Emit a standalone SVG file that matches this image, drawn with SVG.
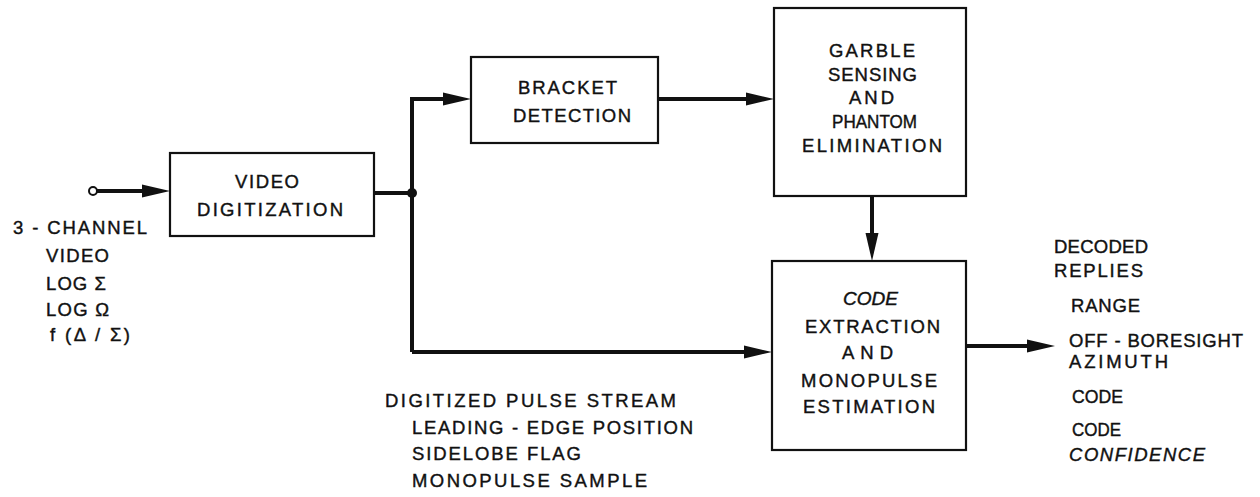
<svg xmlns="http://www.w3.org/2000/svg" width="1260" height="497" viewBox="0 0 1260 497">
<style>
text{font-family:"Liberation Sans",Arial,sans-serif;font-size:18.5px;fill:#111;stroke:#111;stroke-width:0.4;}
.c{text-anchor:middle;}
.i{font-style:italic;}
.box{fill:#fff;stroke:#111;stroke-width:2.2;}
.wire{fill:none;stroke:#111;stroke-width:4;}
</style>
<defs>
<marker id="ah" viewBox="0 0 28 14" refX="6" refY="7" markerWidth="28" markerHeight="14" markerUnits="userSpaceOnUse" orient="auto">
<path d="M0,0.5 L28,7 L0,13.5 z" fill="#111"/>
</marker>
</defs>
<rect width="1260" height="497" fill="#fff"/>

<g id="connectors">
<circle cx="93" cy="191" r="4" fill="#fff" stroke="#111" stroke-width="2"/>
<path class="wire" d="M97,191 L148,191" marker-end="url(#ah)"/>
<path class="wire" d="M374,193 L412,193"/>
<path class="wire" d="M412,352 L412,99 L449,99" marker-end="url(#ah)"/>
<path class="wire" d="M658,99 L752,99" marker-end="url(#ah)"/>
<path class="wire" d="M412,352 L750,352" marker-end="url(#ah)"/>
<path class="wire" d="M872,196 L872,239" marker-end="url(#ah)"/>
<path class="wire" d="M966,346 L1033,346" marker-end="url(#ah)"/>
<circle cx="412" cy="193" r="5" fill="#111"/>
</g>

<g id="input-label">
<text x="13" y="234" textLength="134" lengthAdjust="spacing">3 - CHANNEL</text>
<text x="46" y="262" textLength="63" lengthAdjust="spacing">VIDEO</text>
<text x="46" y="290" textLength="60" lengthAdjust="spacing">LOG Σ</text>
<text x="46" y="316" textLength="63" lengthAdjust="spacing">LOG Ω</text>
<text x="50" y="341" textLength="80" lengthAdjust="spacing">f (Δ / Σ)</text>
</g>

<g id="video-digitization">
<rect class="box" x="170" y="153" width="204" height="83"/>
<text x="235" y="188" textLength="64" lengthAdjust="spacing">VIDEO</text>
<text x="197" y="216" textLength="146" lengthAdjust="spacing">DIGITIZATION</text>
</g>

<g id="bracket-detection">
<rect class="box" x="471" y="57" width="187" height="86"/>
<text x="518" y="94" textLength="99" lengthAdjust="spacing">BRACKET</text>
<text x="513" y="122" textLength="118" lengthAdjust="spacing">DETECTION</text>
</g>

<g id="garble-sensing">
<rect class="box" x="774" y="8" width="192" height="188"/>
<text x="829" y="57" textLength="86" lengthAdjust="spacing">GARBLE</text>
<text x="828" y="81" textLength="89" lengthAdjust="spacing">SENSING</text>
<text x="849" y="104" textLength="45" lengthAdjust="spacing">AND</text>
<text x="832" y="128" textLength="85" lengthAdjust="spacingAndGlyphs">PHANTOM</text>
<text x="802" y="152" textLength="140" lengthAdjust="spacing">ELIMINATION</text>
</g>

<g id="code-extraction">
<rect class="box" x="772" y="261" width="194" height="189"/>
<text class="i" x="843" y="305" textLength="55" lengthAdjust="spacingAndGlyphs">CODE</text>
<text x="805" y="333" textLength="135" lengthAdjust="spacing">EXTRACTION</text>
<text x="842" y="359" textLength="51" lengthAdjust="spacing">AND</text>
<text x="801" y="387" textLength="136" lengthAdjust="spacing">MONOPULSE</text>
<text x="803" y="413" textLength="132" lengthAdjust="spacing">ESTIMATION</text>
</g>

<g id="pulse-stream-label">
<text x="385" y="407" textLength="291" lengthAdjust="spacing">DIGITIZED PULSE STREAM</text>
<text x="412" y="434" textLength="281" lengthAdjust="spacing">LEADING - EDGE POSITION</text>
<text x="412" y="460" textLength="169" lengthAdjust="spacing">SIDELOBE FLAG</text>
<text x="412" y="487" textLength="235" lengthAdjust="spacing">MONOPULSE SAMPLE</text>
</g>

<g id="output-label">
<text x="1054" y="253" textLength="94" lengthAdjust="spacing">DECODED</text>
<text x="1054" y="277" textLength="89" lengthAdjust="spacing">REPLIES</text>
<text x="1071" y="312" textLength="69" lengthAdjust="spacing">RANGE</text>
<text x="1069" y="347" textLength="174" lengthAdjust="spacing">OFF - BORESIGHT</text>
<text x="1069" y="368" textLength="99" lengthAdjust="spacing">AZIMUTH</text>
<text x="1072" y="403" textLength="51" lengthAdjust="spacingAndGlyphs">CODE</text>
<text x="1072" y="436" textLength="49" lengthAdjust="spacingAndGlyphs">CODE</text>
<text class="i" x="1069" y="461" textLength="136" lengthAdjust="spacing">CONFIDENCE</text>
</g>
</svg>
